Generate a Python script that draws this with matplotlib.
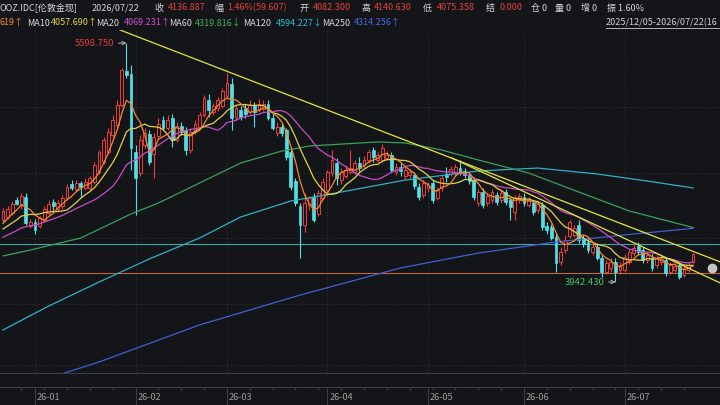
import matplotlib
matplotlib.use("Agg")
import matplotlib.pyplot as plt
from matplotlib.lines import Line2D
import numpy as np
import pandas as pd

plt.rcParams['font.family'] = ['Noto Sans CJK SC', 'DejaVu Sans']

BG = '#141518'
RED = '#f23b3b'
CYAN = '#52e0e6'
GRID = '#33363d'

# daily candles, 2025-12-23 .. 2026-07-22 (weekdays)
dates = pd.bdate_range(end='2026-07-22', periods=152)

opens = [4372, 4393, 4421, 4511, 4483, 4531, 4330, 4358, 4330, 4372,
         4421, 4497, 4448, 4469, 4524, 4621, 4587, 4628, 4594, 4594,
         4635, 4705, 4774, 4843, 4961, 5030, 5169, 5405, 5384, 4843,
         4698, 4892, 4968, 4830, 4954, 5065, 5010, 5079, 4927, 5024,
         4996, 4857, 4982, 5017, 5100, 5204, 5120, 5148, 5162, 5231,
         5315, 5086, 5134, 5148, 5120, 5169, 5134, 5141, 5176, 5079,
         4975, 5017, 4996, 4843, 4642, 4469, 4337, 4476, 4531, 4414,
         4524, 4580, 4698, 4767, 4649, 4677, 4705, 4705, 4767, 4753,
         4788, 4857, 4788, 4788, 4802, 4823, 4705, 4740, 4677, 4684,
         4684, 4601, 4545, 4594, 4628, 4524, 4594, 4691, 4691, 4698,
         4733, 4712, 4684, 4649, 4490, 4566, 4490, 4511, 4545, 4511,
         4566, 4511, 4428, 4511, 4531, 4476, 4490, 4441, 4476, 4330,
         4324, 4254, 4081, 4164, 4261, 4268, 4337, 4247, 4220, 4150,
         4185, 4108, 4012, 4039, 4081, 4026, 4026, 4081, 4143, 4192,
         4164, 4095, 4108, 4060, 4081, 4095, 4012, 4026, 4060, 3991,
         4026, 4082.3]
highs = [4455, 4469, 4504, 4532, 4559, 4559, 4379, 4379, 4400, 4469,
         4511, 4517, 4511, 4545, 4621, 4649, 4649, 4642, 4663, 4677,
         4774, 4857, 4947, 5010, 5100, 5204, 5425, 5598.75, 5446, 4892,
         4961, 5010, 4996, 4975, 5079, 5093, 5100, 5107, 5051, 5051,
         5017, 5010, 5065, 5120, 5238, 5245, 5183, 5224, 5287, 5391,
         5356, 5169, 5162, 5176, 5204, 5190, 5211, 5204, 5204, 5107,
         5051, 5037, 5010, 4857, 4663, 4490, 4559, 4538, 4559, 4580,
         4663, 4719, 4857, 4802, 4733, 4753, 4857, 4788, 4808, 4816,
         4864, 4878, 4843, 4899, 4850, 4843, 4767, 4767, 4740, 4726,
         4705, 4628, 4649, 4635, 4649, 4601, 4684, 4740, 4747, 4760,
         4788, 4733, 4705, 4670, 4587, 4594, 4559, 4587, 4566, 4580,
         4587, 4531, 4545, 4559, 4559, 4531, 4511, 4504, 4497, 4358,
         4344, 4275, 4185, 4268, 4372, 4337, 4372, 4268, 4247, 4206,
         4213, 4130, 4095, 4108, 4108, 4081, 4137, 4171, 4206, 4220,
         4185, 4150, 4137, 4130, 4123, 4116, 4081, 4074, 4081, 4060,
         4081, 4140.63]
lows = [4358, 4379, 4407, 4476, 4448, 4337, 4316, 4275, 4316, 4358,
        4407, 4434, 4434, 4448, 4511, 4580, 4573, 4531, 4580, 4580,
        4621, 4691, 4760, 4830, 4947, 5010, 5155, 5356, 4719, 4407,
        4677, 4871, 4753, 4663, 4927, 4996, 4996, 4878, 4913, 4961,
        4823, 4836, 4968, 5003, 5086, 5086, 5100, 5127, 5148, 5218,
        4996, 5065, 5065, 5079, 5107, 5017, 5120, 5127, 5065, 4996,
        4954, 4954, 4788, 4580, 4469, 4108, 4289, 4441, 4358, 4400,
        4511, 4538, 4677, 4615, 4621, 4663, 4691, 4691, 4712, 4733,
        4767, 4774, 4774, 4774, 4788, 4705, 4684, 4677, 4656, 4663,
        4587, 4511, 4524, 4566, 4490, 4511, 4573, 4635, 4677, 4684,
        4684, 4663, 4621, 4511, 4469, 4455, 4469, 4490, 4476, 4490,
        4476, 4372, 4372, 4490, 4469, 4462, 4407, 4421, 4303, 4275,
        4234, 4012, 4060, 4143, 4247, 4254, 4213, 4185, 4143, 4130,
        4095, 3977, 3998, 4012, 3942.43, 3998, 4012, 4067, 4123, 4130,
        4074, 4074, 4019, 4039, 4060, 3984, 3998, 4012, 3963, 3977,
        4012, 4075.358]
closes = [4434, 4448, 4483, 4483, 4538, 4351, 4358, 4303, 4386, 4448,
          4483, 4469, 4490, 4524, 4601, 4594, 4628, 4601, 4635, 4663,
          4753, 4843, 4927, 4982, 5065, 5169, 5412, 5377, 4871, 4663,
          4927, 4975, 4774, 4947, 5037, 5010, 5065, 4927, 5024, 4982,
          4857, 4982, 5037, 5100, 5218, 5134, 5162, 5204, 5266, 5321,
          5079, 5148, 5086, 5107, 5169, 5120, 5176, 5176, 5079, 5010,
          5017, 4975, 4808, 4601, 4490, 4337, 4490, 4524, 4372, 4559,
          4635, 4705, 4788, 4663, 4705, 4719, 4733, 4767, 4733, 4788,
          4843, 4808, 4823, 4871, 4823, 4719, 4740, 4712, 4719, 4705,
          4608, 4531, 4628, 4615, 4511, 4580, 4663, 4670, 4726, 4740,
          4705, 4684, 4642, 4531, 4566, 4476, 4538, 4566, 4497, 4559,
          4497, 4462, 4524, 4538, 4490, 4511, 4428, 4483, 4324, 4303,
          4247, 4074, 4150, 4234, 4358, 4316, 4234, 4206, 4164, 4185,
          4108, 4012, 4074, 4081, 4012, 4060, 4116, 4150, 4178, 4150,
          4095, 4130, 4039, 4108, 4102, 4005, 4060, 4053, 3977, 4039,
          4060, 4136.887]

# closes before the visible window (only used for the short MAs)
prior_closes = [4150, 4170, 4160, 4190, 4180, 4210, 4200, 4230, 4220, 4250,
                4240, 4260, 4280, 4270, 4300, 4290, 4320, 4340, 4360]

# long MAs (candle index, value)
ma60_idx = [0, 6, 17, 28, 34, 52, 61, 67, 82, 88, 96, 104, 115, 126, 137, 151]
ma60_val = [4123, 4164, 4247, 4414, 4490, 4767, 4850, 4885, 4913, 4906, 4857,
            4788, 4698, 4566, 4435, 4319.816]
ma120_idx = [0, 10, 21, 32, 43, 52, 63, 74, 88, 104, 117, 130, 141, 151]
ma120_val = [3610, 3776, 3942, 4102, 4247, 4393, 4504, 4566, 4649, 4712, 4732,
             4691, 4642, 4594.227]
ma250_idx = [10, 21, 43, 65, 87, 104, 121, 138, 151]
ma250_val = [3277, 3388, 3645, 3852, 4040, 4143, 4220, 4275, 4314.256]

# drawn lines
trend_a = ([25.6, 157.0], [5689, 4081])
trend_b = ([98.2, 157.0], [4802, 3935])
hline_teal = 4206
hline_orange = 4005
grid_prices = [5155, 4698, 4247, 3790, 3367]
peak_idx, peak_val = 27, 5598.75
low_idx, low_val = 134, 3942.43

o = np.array(opens); h = np.array(highs); l = np.array(lows); c = np.array(closes)
x = np.arange(len(c))
allc = pd.Series(prior_closes + closes)
n0 = len(prior_closes)
ma5 = allc.rolling(5).mean().values[n0:]
ma10 = allc.rolling(10).mean().values[n0:]
ma20 = allc.rolling(20).mean().values[n0:]

fig = plt.figure(figsize=(7.2, 4.05), dpi=100, facecolor=BG)
ax = fig.add_axes([0, 32 / 405, 1, 343 / 405], facecolor=BG)
ax.set_xlim(-0.656, 156.89)
ax.set_ylim(3311.9, 5688.8)

month_start = [i for i in range(1, len(dates)) if dates[i].month != dates[i - 1].month]
for m in month_start:
    ax.axvline(m, color=GRID, lw=0.7, ls=(0, (1, 2)), zorder=0)
for gp in grid_prices:
    ax.axhline(gp, color=GRID, lw=0.7, ls=(0, (1, 2)), zorder=0)

ax.axhline(hline_teal, color='#3aa6a6', lw=0.8, zorder=1)
ax.axhline(hline_orange, color='#c2663a', lw=0.8, zorder=1)

up = c >= o
ax.vlines(x[up], l[up], h[up], color=RED, lw=0.8, zorder=2)
ax.vlines(x[~up], l[~up], h[~up], color=CYAN, lw=0.8, zorder=2)
ax.bar(x[up], c[up] - o[up], bottom=o[up], width=0.62, facecolor=BG,
       edgecolor=RED, lw=0.7, zorder=3)
ax.bar(x[~up], c[~up] - o[~up], bottom=o[~up], width=0.62, facecolor=CYAN,
       edgecolor=CYAN, lw=0.5, zorder=3)

ax.plot(ma250_idx, ma250_val, color='#3f5fd8', lw=0.9, zorder=4)
ax.plot(ma120_idx, ma120_val, color='#2fb0c8', lw=0.9, zorder=4)
ax.plot(ma60_idx, ma60_val, color='#3aa05a', lw=0.9, zorder=4)
ax.plot(x, ma20, color='#c84cc8', lw=0.9, zorder=4)
ax.plot(x, ma10, color='#e2cf4c', lw=0.9, zorder=4)
ax.plot(x, ma5, color='#f28a2e', lw=0.9, zorder=4)

ax.plot(*trend_a, color='#e4e43c', lw=0.9, zorder=5)
ax.plot(*trend_b, color='#e4e43c', lw=0.9, zorder=5)

ax.annotate(f'{peak_val:.3f}', xy=(peak_idx, peak_val), xytext=(-12, -1),
            textcoords='offset pixels', ha='right', va='center', color='#e33b3b',
            fontsize=6.8, arrowprops=dict(arrowstyle='->', color='#b8b8b8', lw=0.7,
                                          shrinkA=1, shrinkB=0, mutation_scale=6))
ax.annotate(f'{low_val:.3f}', xy=(low_idx, low_val), xytext=(-11, 0),
            textcoords='offset pixels', ha='right', va='center', color='#3ec66a',
            fontsize=6.8, arrowprops=dict(arrowstyle='->', color='#b8b8b8', lw=0.7,
                                          shrinkA=1, shrinkB=0, mutation_scale=6))

ax.plot(155.1, 4040, marker='o', ms=6, color='#c4c4c4', zorder=6, clip_on=False)

for s in ['top', 'left', 'right']:
    ax.spines[s].set_visible(False)
ax.spines['bottom'].set_color('#3a3d44')
ax.set_xticks([]); ax.set_yticks([])

# date strip
ax2 = fig.add_axes([0, 0, 1, 18 / 405], facecolor=BG)
ax2.set_xlim(-0.656, 156.89)
ax2.set_ylim(0, 1)
for s in ['bottom', 'left', 'right']:
    ax2.spines[s].set_visible(False)
ax2.spines['top'].set_color('#3a3d44')
ax2.set_xticks([]); ax2.set_yticks([])
mondays = [i for i in range(len(dates)) if dates[i].weekday() == 0]
ax2.vlines(mondays, 0.82, 1, color='#3a3d44', lw=0.8)
for m in month_start:
    ax2.axvline(m, color='#3a3d44', lw=0.8)
    ax2.text(m + 0.4, 0.42, dates[m].strftime('%y-%m'), ha='left', va='center',
             fontsize=6.6, color='#9c9c9c')

# header
W, H = 720, 405
def ht(px, py, s, col='#d6d6d6'):
    fig.text(px / W, 1 - py / H, s, ha='left', va='center', fontsize=6.5, color=col)

hred = '#e8403c'
ht(-1, 8, 'OOZ.IDC[伦敦金现]')
ht(92, 8, '2026/07/22')
ht(154, 8, '收'); ht(168, 8, '4136.887', hred)
ht(214, 8, '幅'); ht(227, 8, '1.46%(59.607)', hred)
ht(300, 8, '开'); ht(313, 8, '4082.300', hred)
ht(361, 8, '高'); ht(374, 8, '4140.630', hred)
ht(423, 8, '低'); ht(437, 8, '4075.358', hred)
ht(486, 8, '结'); ht(499, 8, '0.000', hred)
ht(531, 8, '仓 0'); ht(555, 8, '量 0'); ht(581, 8, '增 0')
ht(607, 8, '振 1.60%')

ht(0, 23, '619↑', '#f28a2e')
ht(27, 23, 'MA10'); ht(51, 23, '4057.690↑', '#e2cf4c')
ht(96, 23, 'MA20'); ht(124, 23, '4069.231↑', '#d24cd2')
ht(169, 23, 'MA60'); ht(195, 23, '4319.816↓', '#3cb060')
ht(243, 23, 'MA120'); ht(276, 23, '4594.227↓', '#30b8d0')
ht(322, 23, 'MA250'); ht(354, 23, '4314.256↑', '#4a6ae6')
ht(606, 23, '2025/12/05-2026/07/22(16', '#cfcfcf')
fig.add_artist(Line2D([606 / W, 1], [1 - 28 / H] * 2, color='#cfcfcf', lw=0.6))

fig.savefig('out.png', dpi=100, facecolor=BG)
